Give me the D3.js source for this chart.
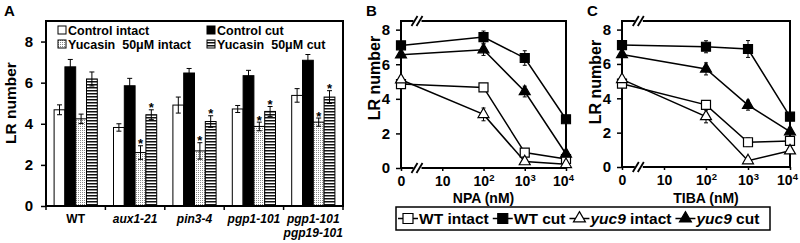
<!DOCTYPE html>
<meta charset="utf-8">
<style>
body { margin: 0; background: #fff; }
text { font-family: "Liberation Sans", Arial, sans-serif; font-weight: bold; fill: #000; }
</style>
<body>
<svg width="800" height="243"></svg>
<script src="https://d3js.org/d3.v7.min.js"></script>
<script>

// ---- panel A data (lateral root number per genotype)
var categories = ["WT", "aux1-21", "pin3-4", "pgp1-101", "pgp1-101\npgp19-101"];
var categoryItalic = [false, true, true, true, true];
var treatments = ["Control intact", "Control cut", "Yucasin  50\u03bcM intact", "Yucasin  50\u03bcM cut"];
var controlIntact    = [4.68, 3.82, 4.91, 4.72, 5.38];
var controlIntactErr = [0.24, 0.18, 0.39, 0.17, 0.33];
var controlCut       = [6.77, 5.85, 6.47, 6.34, 7.09];
var controlCutErr    = [0.36, 0.36, 0.22, 0.26, 0.28];
var yucIntact        = [4.24, 2.60, 2.68, 3.87, 4.08];
var yucIntactErr     = [0.23, 0.33, 0.40, 0.21, 0.20];
var yucCut           = [6.18, 4.44, 4.11, 4.60, 5.30];
var yucCutErr        = [0.34, 0.24, 0.28, 0.24, 0.31];
var yucStar          = [false, true, true, true, true];
var yTicksA = [0, 2, 4, 6, 8];

// ---- panels B and C data (dose response)
var doseLabels = [["0", ""], ["10", ""], ["10", "2"], ["10", "3"], ["10", "4"]];
var doseIdx = [0, 2, 3, 4];
var yTicksBC = [0, 2, 4, 6, 8];

var npaWtIntact     = [4.85, 4.66, 0.89, 0.52];
var npaWtIntactErr  = [0.10, 0.10, 0.15, 0.10];
var npaWtCut        = [7.09, 7.57, 6.36, 2.82];
var npaWtCutErr     = [0.12, 0.35, 0.42, 0.10];
var npaYucIntact    = [5.10, 3.10, 0.37, 0.21];
var npaYucIntactErr = [0.10, 0.37, 0.10, 0.05];
var npaYucCut       = [6.55, 6.84, 4.42, 0.81];
var npaYucCutErr    = [0.12, 0.33, 0.31, 0.10];

var tibaWtIntact     = [4.85, 3.62, 1.44, 1.52];
var tibaWtIntactErr  = [0.10, 0.12, 0.25, 0.10];
var tibaWtCut        = [7.10, 7.00, 6.87, 2.93];
var tibaWtCutErr     = [0.12, 0.35, 0.49, 0.10];
var tibaYucIntact    = [5.10, 2.94, 0.37, 0.95];
var tibaYucIntactErr = [0.10, 0.37, 0.08, 0.08];
var tibaYucCut       = [6.55, 5.71, 3.60, 2.06];
var tibaYucCutErr    = [0.12, 0.35, 0.29, 0.10];

var seriesNames = ["WT intact", "WT cut", "yuc9 intact", "yuc9 cut"];

var svg = d3.select("svg");
var defs = svg.append("defs");

var dots = defs.append("pattern").attr("id", "dots")
    .attr("width", 2).attr("height", 2).attr("patternUnits", "userSpaceOnUse");
dots.append("rect").attr("width", 2).attr("height", 2).attr("fill", "#fff");
dots.append("rect").attr("width", 1).attr("height", 1).attr("fill", "#888");

var stripes = defs.append("pattern").attr("id", "stripes")
    .attr("width", 4).attr("height", 3).attr("patternUnits", "userSpaceOnUse");
stripes.append("rect").attr("width", 4).attr("height", 3).attr("fill", "#fff");
stripes.append("rect").attr("width", 4).attr("height", 1.5).attr("fill", "#111");

// ================= panel A =================
var xA = d3.scaleBand().domain(d3.range(categories.length)).range([46, 343]);
var xInner = d3.scaleBand().domain(d3.range(4)).range([0, xA.bandwidth()]).paddingOuter(0.75);
var yA = d3.scaleLinear().domain([0, 9]).range([206, 21]);

var barSets = [
  {vals: controlIntact, errs: controlIntactErr, fill: "#fff", star: null},
  {vals: controlCut, errs: controlCutErr, fill: "#000", star: null},
  {vals: yucIntact, errs: yucIntactErr, fill: "url(#dots)", star: yucStar},
  {vals: yucCut, errs: yucCutErr, fill: "url(#stripes)", star: yucStar}
];

var gA = svg.append("g");

barSets.forEach(function(set, s) {
  var grp = gA.append("g");
  set.vals.forEach(function(v, i) {
    var bx = xA(i) + xInner(s);
    var bw = xInner.bandwidth();
    var cx = bx + bw / 2;
    grp.append("rect")
      .attr("x", bx).attr("y", yA(v))
      .attr("width", bw).attr("height", yA(0) - yA(v))
      .attr("fill", set.fill).attr("stroke", "#000").attr("stroke-width", 1);
    var top = yA(v + set.errs[i]), bot = yA(v - set.errs[i]);
    grp.append("line").attr("x1", cx).attr("x2", cx).attr("y1", top).attr("y2", bot)
      .attr("stroke", "#000").attr("stroke-width", 1);
    [top, bot].forEach(function(yy) {
      grp.append("line").attr("x1", cx - 2.5).attr("x2", cx + 2.5).attr("y1", yy).attr("y2", yy)
        .attr("stroke", "#000").attr("stroke-width", 1);
    });
    if (set.star && set.star[i]) {
      grp.append("text").attr("x", cx).attr("y", top + 2.5)
        .attr("text-anchor", "middle").style("font-size", "13px").text("*");
    }
  });
});

gA.append("rect").attr("x", 46).attr("y", 21).attr("width", 297).attr("height", 185)
  .attr("fill", "none").attr("stroke", "#000").attr("stroke-width", 2);

var yAxisA = gA.append("g").attr("transform", "translate(46,0)")
  .call(d3.axisLeft(yA).tickValues(yTicksA).tickSize(5).tickPadding(8));
yAxisA.select(".domain").remove();
yAxisA.selectAll("line").attr("stroke-width", 1.5);
yAxisA.selectAll("text").style("font-size", "15px").attr("font-family", null);

// category boundary ticks
var bounds = d3.range(categories.length).map(function(i) { return xA(i); }).concat([xA.range()[1]]);
gA.selectAll(".bt").data(bounds).enter().append("line")
  .attr("x1", function(d) { return d; }).attr("x2", function(d) { return d; })
  .attr("y1", 206).attr("y2", 210).attr("stroke", "#000").attr("stroke-width", 1.5);

categories.forEach(function(c, i) {
  var t = gA.append("text").attr("x", xA(i) + xA.bandwidth() / 2).attr("y", 223)
    .attr("text-anchor", "middle").style("font-size", "12px")
    .style("font-style", categoryItalic[i] ? "italic" : "normal");
  c.split("\n").forEach(function(line, k) {
    t.append("tspan").attr("x", xA(i) + xA.bandwidth() / 2).attr("dy", k == 0 ? 0 : 13.5).text(line);
  });
});

gA.append("text").attr("transform", "translate(16,103)rotate(-90)")
  .attr("text-anchor", "middle").style("font-size", "15.5px").text("LR number");
svg.append("text").attr("x", 4).attr("y", 16).style("font-size", "15px").text("A");

// legend A
var legFills = ["#fff", "#000", "url(#dots)", "url(#stripes)"];
treatments.forEach(function(name, k) {
  var lx = (k % 2 == 0) ? 58 : 207;
  var ly = (k < 2) ? 30 : 44;
  gA.append("rect").attr("x", lx).attr("y", ly - 4).attr("width", 8).attr("height", 8)
    .attr("fill", legFills[k]).attr("stroke", "#000").attr("stroke-width", 1);
  gA.append("text").attr("x", lx + 10).attr("y", ly + 4.5)
    .style("font-size", "12.5px").style("white-space", "pre").text(name);
});

// ================= panels B and C =================
function drawDosePanel(left, right, top, bottom, letter, letterX, ylabX, ylabY, title, series) {
  var g = svg.append("g");
  var x = d3.scaleLinear().domain([0, doseLabels.length - 1]).range([left, right]);
  var y = d3.scaleLinear().domain([0, 8.5]).range([bottom, top]);

  g.append("rect").attr("x", left).attr("y", top).attr("width", right - left).attr("height", bottom - top)
    .attr("fill", "none").attr("stroke", "#000").attr("stroke-width", 2);

  // axis breaks
  [top, bottom].forEach(function(yy) {
    var bx = x(0.4);
    g.append("rect").attr("x", bx - 4).attr("y", yy - 2).attr("width", 8).attr("height", 4).attr("fill", "#fff");
    [-3, 2].forEach(function(o) {
      g.append("line").attr("x1", bx + o - 3).attr("y1", yy + 5).attr("x2", bx + o + 3).attr("y2", yy - 5)
        .attr("stroke", "#000").attr("stroke-width", 1.8);
    });
  });

  var ya = g.append("g").attr("transform", "translate(" + left + ",0)")
    .call(d3.axisLeft(y).tickValues(yTicksBC).tickSize(5).tickPadding(6));
  ya.select(".domain").remove();
  ya.selectAll("line").attr("stroke-width", 1.5);
  ya.selectAll("text").style("font-size", "15px").attr("font-family", null);

  var last = doseLabels.length - 1;
  var xa = g.append("g").attr("transform", "translate(0," + bottom + ")")
    .call(d3.axisBottom(x).tickValues(d3.range(doseLabels.length)).tickSize(3).tickPadding(5));
  xa.select(".domain").remove();
  xa.selectAll("line").attr("stroke-width", 1.5);
  xa.selectAll("text").attr("font-family", null).style("font-size", "14px").each(function(d) {
    var t = d3.select(this).text(null);
    if (d == last) t.attr("dx", -3);
    t.append("tspan").text(doseLabels[d][0]);
    if (doseLabels[d][1]) {
      t.append("tspan").style("font-size", "9.5px").attr("dy", "-0.55em").text(doseLabels[d][1]);
    }
  });

  g.append("text").attr("x", (left + right) / 2).attr("y", 203)
    .attr("text-anchor", "middle").style("font-size", "14px").text(title);
  g.append("text").attr("transform", "translate(" + ylabX + "," + ylabY + ")rotate(-90)")
    .attr("text-anchor", "middle").style("font-size", "16px").text("LR number");
  svg.append("text").attr("x", letterX).attr("y", 16).style("font-size", "15px").text(letter);

  var line = d3.line().x(function(d, i) { return x(doseIdx[i]); }).y(function(d) { return y(d); });

  series.forEach(function(s) {
    g.append("path").datum(s.vals).attr("d", line)
      .attr("fill", "none").attr("stroke", "#000").attr("stroke-width", 1.5);
  });
  series.forEach(function(s) {
    s.vals.forEach(function(v, i) {
      var cx = x(doseIdx[i]);
      var t = y(v + s.errs[i]), b = y(v - s.errs[i]);
      g.append("line").attr("x1", cx).attr("x2", cx).attr("y1", t).attr("y2", b).attr("stroke", "#000").attr("stroke-width", 1);
      [t, b].forEach(function(yy) {
        g.append("line").attr("x1", cx - 2).attr("x2", cx + 2).attr("y1", yy).attr("y2", yy).attr("stroke", "#000").attr("stroke-width", 1);
      });
    });
  });
  series.forEach(function(s) {
    g.selectAll(null).data(s.vals).enter().append("path")
      .attr("d", d3.symbol().type(s.shape).size(s.shape === d3.symbolSquare ? 81 : 52))
      .attr("transform", function(d, i) { return "translate(" + x(doseIdx[i]) + "," + y(d) + ")"; })
      .attr("fill", s.filled ? "#000" : "#fff").attr("stroke", "#000").attr("stroke-width", 1.2);
  });
}

drawDosePanel(401, 566, 21, 168, "B", 366, 380, 78, "NPA (nM)", [
  {vals: npaWtIntact, errs: npaWtIntactErr, shape: d3.symbolSquare, filled: false},
  {vals: npaYucIntact, errs: npaYucIntactErr, shape: d3.symbolTriangle, filled: false},
  {vals: npaYucCut, errs: npaYucCutErr, shape: d3.symbolTriangle, filled: true},
  {vals: npaWtCut, errs: npaWtCutErr, shape: d3.symbolSquare, filled: true}
]);

drawDosePanel(622, 790, 21, 167, "C", 587, 601, 82, "TIBA (nM)", [
  {vals: tibaWtIntact, errs: tibaWtIntactErr, shape: d3.symbolSquare, filled: false},
  {vals: tibaYucIntact, errs: tibaYucIntactErr, shape: d3.symbolTriangle, filled: false},
  {vals: tibaYucCut, errs: tibaYucCutErr, shape: d3.symbolTriangle, filled: true},
  {vals: tibaWtCut, errs: tibaWtCutErr, shape: d3.symbolSquare, filled: true}
]);

// shared legend
var leg = svg.append("g");
leg.append("rect").attr("x", 396).attr("y", 207).attr("width", 374).attr("height", 23)
  .attr("fill", "#fff").attr("stroke", "#000").attr("stroke-width", 1.5);
var legShapes = [d3.symbolSquare, d3.symbolSquare, d3.symbolTriangle, d3.symbolTriangle];
var legFilled = [false, true, false, true];
var lx = 398;
seriesNames.forEach(function(name, k) {
  leg.append("line").attr("x1", lx).attr("x2", lx + 20).attr("y1", 218.5).attr("y2", 218.5)
    .attr("stroke", "#000").attr("stroke-width", 1.5);
  leg.append("path").attr("d", d3.symbol().type(legShapes[k]).size(legShapes[k] === d3.symbolSquare ? 100 : 62))
    .attr("transform", "translate(" + (lx + 10) + ",218.5)")
    .attr("fill", legFilled[k] ? "#000" : "#fff").attr("stroke", "#000").attr("stroke-width", 1.2);
  var t = leg.append("text").attr("x", lx + 21).attr("y", 224).style("font-size", "15.5px");
  var parts = name.split(" ");
  t.append("tspan").style("font-style", parts[0] == "yuc9" ? "italic" : "normal").text(parts[0]);
  t.append("tspan").text(" " + parts[1]);
  lx = lx + 21 + t.node().getComputedTextLength() + 4;
});

</script>
</body>
